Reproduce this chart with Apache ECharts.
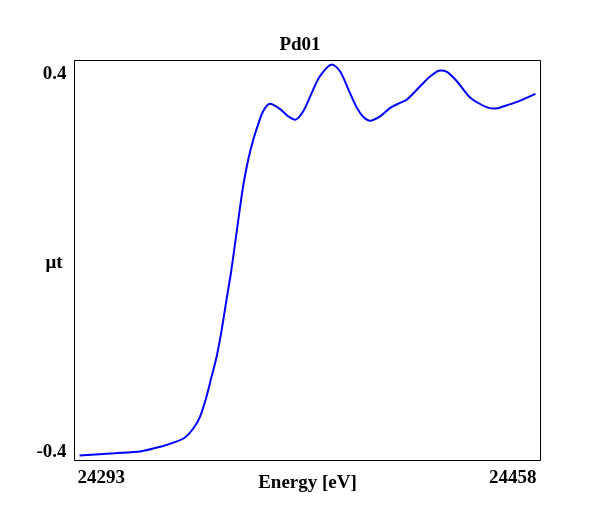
<!DOCTYPE html>
<html>
<head>
    <meta charset="UTF-8">
    <title>Pd01</title>
    <script src="https://cdn.jsdelivr.net/npm/echarts@6/dist/echarts.min.js"></script>
    <style>
        html, body { margin: 0; padding: 0; background: #fff; }
    </style>
</head>
<body>
<div id="container" style="width: 600px; height: 520px;"></div>
<script>

    // energy [eV] and absorption
    var energy = [24294.8, 24307.2, 24316.7, 24323.8, 24328.5, 24332.0, 24335.0, 24337.4,
        24339.7, 24341.5, 24343.3, 24345.1, 24346.8, 24348.6, 24351.0, 24352.7,
        24354.5, 24356.3, 24358.0, 24359.8, 24362.2, 24365.7, 24368.7, 24371.1, 24374.0,
        24377.0, 24379.9, 24384.1, 24387.0, 24390.0, 24393.0, 24395.3, 24397.7, 24401.2,
        24404.8, 24408.3, 24410.7, 24415.4, 24419.0, 24422.5, 24424.9, 24428.4, 24432.6,
        24435.5, 24439.1, 24442.0, 24445.0, 24449.7, 24456.2];
    var mut = [-0.4127, -0.4079, -0.4036, -0.3936, -0.3845, -0.3752, -0.3561, -0.3314,
        -0.2890, -0.2466, -0.2041, -0.1475, -0.0838, -0.0180, 0.0859, 0.1566,
        0.2133, 0.2557, 0.2875, 0.3158, 0.3315, 0.3208, 0.3051, 0.2981, 0.3158,
        0.3548, 0.3900, 0.4149, 0.4006, 0.3618, 0.3230, 0.3039, 0.2960, 0.3051,
        0.3230, 0.3336, 0.3406, 0.3688, 0.3900, 0.4021, 0.3994, 0.3794, 0.3476,
        0.3349, 0.3242, 0.3215, 0.3264, 0.3357, 0.3527];

    // tick labels shown on the axes
    var xTicks = [24293, 24458];
    var yTicks = [-0.4, 0.4];

    var points = [];
    for (var i = 0; i < energy.length; i++) {
        points.push([energy[i], mut[i]]);
    }

    var font = 'Liberation Serif, Times New Roman, serif';
    // pushes the y labels down a little, like the original
    var lowText = { fontFamily: font, fontSize: 19, fontWeight: 'bold', color: '#000', padding: [6, 0, 0, 0] };

    var mychart = echarts.init(document.getElementById("container"));
    var option = {
        animation: false,
        title: {
            text: 'Pd01',
            left: 'center',
            top: 31,
            textStyle: { fontFamily: font, fontSize: 19, fontWeight: 'bold', color: '#000' }
        },
        grid: {
            left: 74.5, right: 59.5, top: 60.5, bottom: 59.5,
            show: true, borderColor: '#000', borderWidth: 1, backgroundColor: '#fff'
        },
        xAxis: {
            type: 'value',
            min: xTicks[0],
            max: xTicks[1],
            name: 'Energy [eV]',
            nameLocation: 'middle',
            nameGap: 13,
            nameMoveOverlap: false,
            nameTextStyle: { fontFamily: font, fontSize: 19, fontWeight: 'bold', color: '#000' },
            axisLine: { show: false },
            axisTick: { show: false },
            splitLine: { show: false },
            axisLabel: {
                customValues: xTicks,
                margin: 8,
                alignMinLabel: 'left',
                alignMaxLabel: 'right',
                padding: [0, 4, 0, 3],
                formatter: function (v) { return String(v); },
                fontFamily: font, fontSize: 19, fontWeight: 'bold', color: '#000'
            }
        },
        yAxis: {
            type: 'value',
            min: -0.4233,
            max: 0.4233,
            name: '{a|μt}',
            nameLocation: 'middle',
            nameRotate: 0,
            nameGap: 12,
            nameMoveOverlap: false,
            nameTextStyle: {
                fontFamily: font, fontSize: 19, fontWeight: 'bold', color: '#000',
                rich: { a: lowText }
            },
            axisLabel: {
                customValues: yTicks,
                margin: 8,
                formatter: '{a|{value}}',
                fontFamily: font, fontSize: 19, fontWeight: 'bold', color: '#000',
                rich: { a: lowText }
            },
            axisLine: { show: false },
            axisTick: { show: false },
            splitLine: { show: false }
        },
        series: [{
            type: 'line',
            data: points,
            smooth: 0.3,
            showSymbol: false,
            lineStyle: { color: '#0000ff', width: 2 }
        }]
    };

    mychart.setOption(option);

</script>
</body>
</html>
